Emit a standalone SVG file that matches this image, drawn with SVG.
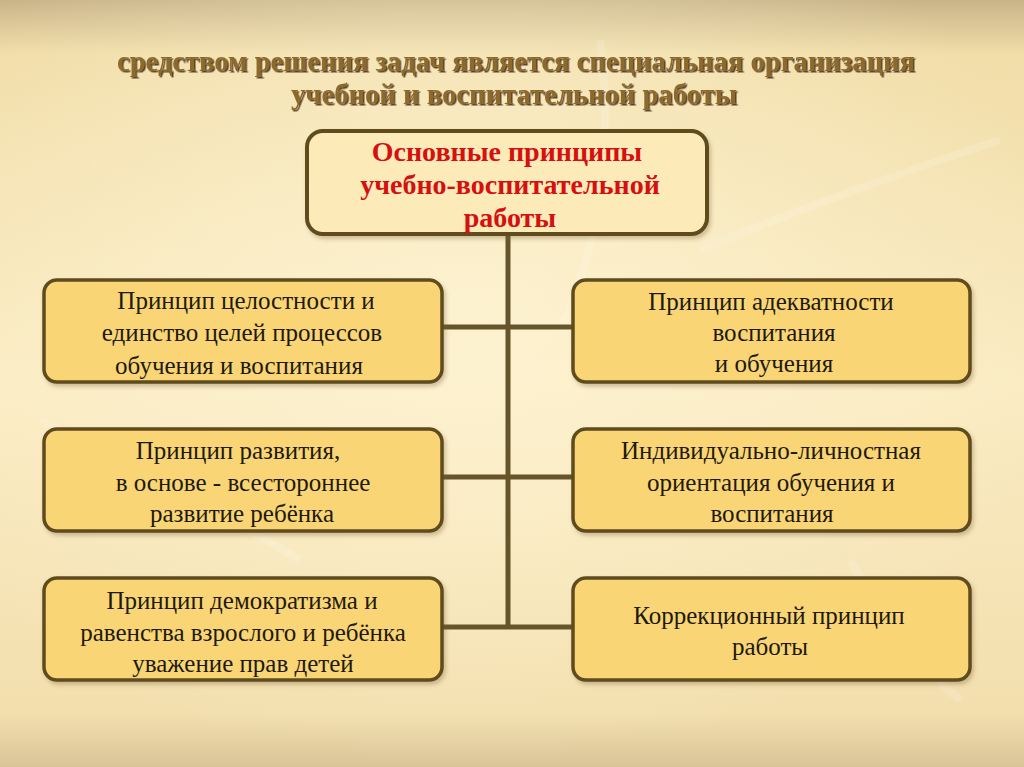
<svg xmlns="http://www.w3.org/2000/svg" width="1024" height="767" viewBox="0 0 1024 767">
<defs>
<linearGradient id="bg" x1="0" y1="0" x2="0" y2="1">
<stop offset="0" stop-color="#C9B488"/>
<stop offset="0.07" stop-color="#F1DDA8"/>
<stop offset="0.5" stop-color="#FAEBC2"/>
<stop offset="0.93" stop-color="#F3DFAE"/>
<stop offset="1" stop-color="#D9C497"/>
</linearGradient>
<radialGradient id="glow" cx="0.45" cy="0.4" r="0.6">
<stop offset="0" stop-color="#FFF6D8" stop-opacity="0.7"/>
<stop offset="1" stop-color="#FFF6D8" stop-opacity="0"/>
</radialGradient>
<filter id="sh" x="-5%" y="-10%" width="112%" height="125%">
<feDropShadow dx="2" dy="3" stdDeviation="2" flood-color="#7A6030" flood-opacity="0.35"/>
</filter>
<filter id="tsh" x="-5%" y="-20%" width="110%" height="150%">
<feDropShadow dx="1.5" dy="1.5" stdDeviation="0.6" flood-color="#2E1E08" flood-opacity="0.8"/>
</filter>
</defs>
<style>
.box{fill:#F9D574;stroke:#5E4C1F;stroke-width:3.5;filter:url(#sh)}
.top{fill:#FCEBB9;stroke:#5E4C1F;stroke-width:4;filter:url(#sh)}
.t{font-family:"Liberation Serif",serif;font-size:25px;fill:#1E1A10;text-anchor:middle}
.h{font-family:"Liberation Serif",serif;font-size:28px;font-weight:bold;fill:#D60F0F;text-anchor:middle}
.title{font-family:"Liberation Serif",serif;font-size:30px;font-weight:bold;fill:#8E6A2C;text-anchor:middle;filter:url(#tsh)}
.ln{stroke:#66552A;stroke-width:5;fill:none}
</style>
<rect width="1024" height="767" fill="url(#bg)"/>
<rect width="1024" height="767" fill="url(#glow)"/>
<g opacity="0.15" stroke="#FFFFFF" stroke-width="8" fill="none">
<path d="M600 40 Q620 200 560 330"/>
<path d="M700 250 Q820 200 1000 140"/>
<path d="M40 420 Q200 500 300 560"/>
<path d="M850 560 Q900 650 960 700"/>
</g>
<g id="title">
<text class="title" x="516" y="71" textLength="798" lengthAdjust="spacingAndGlyphs">средством решения задач является специальная организация</text>
<text class="title" x="514" y="104" textLength="446" lengthAdjust="spacingAndGlyphs">учебной и воспитательной работы</text>
</g>
<g id="connectors">
<line class="ln" x1="508" y1="234" x2="508" y2="629"/>
<line class="ln" x1="442" y1="327" x2="573" y2="327"/>
<line class="ln" x1="442" y1="477" x2="573" y2="477"/>
<line class="ln" x1="442" y1="627" x2="573" y2="627"/>
</g>
<g id="main">
<rect class="top" x="307" y="131" width="400" height="103" rx="16"/>
<text class="h" x="507" y="161">Основные принципы</text>
<text class="h" x="510" y="194">учебно-воспитательной</text>
<text class="h" x="510" y="227">работы</text>
</g>
<g id="n1">
<rect class="box" x="44" y="280" width="398" height="102" rx="13"/>
<text class="t" x="246" y="309">Принцип целостности и</text>
<text class="t" x="242" y="341">единство целей процессов</text>
<text class="t" x="239" y="374">обучения и воспитания</text>
</g>
<g id="n2">
<rect class="box" x="573" y="280" width="397" height="102" rx="13"/>
<text class="t" x="771" y="310">Принцип адекватности</text>
<text class="t" x="774" y="341">воспитания</text>
<text class="t" x="774" y="372">и обучения</text>
</g>
<g id="n3">
<rect class="box" x="44" y="429" width="398" height="102" rx="13"/>
<text class="t" x="238" y="459">Принцип развития,</text>
<text class="t" x="243" y="491">в основе - всестороннее</text>
<text class="t" x="242" y="522">развитие ребёнка</text>
</g>
<g id="n4">
<rect class="box" x="573" y="429" width="397" height="102" rx="13"/>
<text class="t" x="771" y="459">Индивидуально-личностная</text>
<text class="t" x="771" y="491">ориентация обучения и</text>
<text class="t" x="772" y="522">воспитания</text>
</g>
<g id="n5">
<rect class="box" x="44" y="578" width="398" height="102" rx="13"/>
<text class="t" x="242" y="609">Принцип демократизма и</text>
<text class="t" x="243" y="641">равенства взрослого и ребёнка</text>
<text class="t" x="243" y="672">уважение прав детей</text>
</g>
<g id="n6">
<rect class="box" x="573" y="578" width="397" height="102" rx="13"/>
<text class="t" x="769" y="624">Коррекционный принцип</text>
<text class="t" x="770" y="655">работы</text>
</g>
</svg>
